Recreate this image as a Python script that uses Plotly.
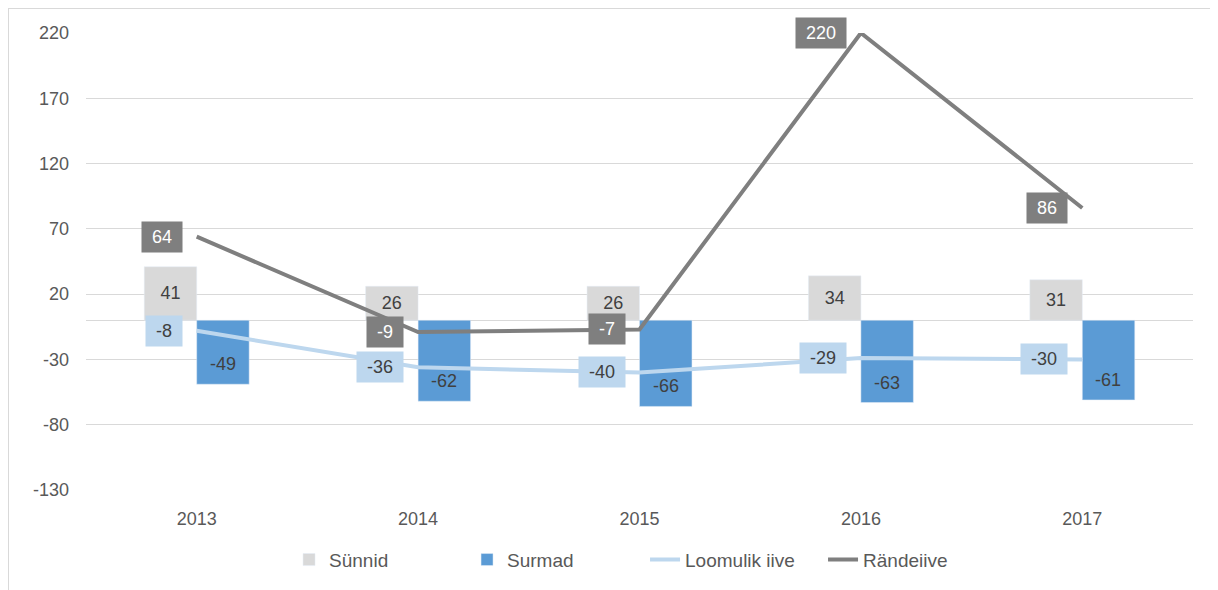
import plotly.graph_objects as go

years = ["2013", "2014", "2015", "2016", "2017"]
sunnid = [41, 26, 26, 34, 31]
surmad = [-49, -62, -66, -63, -61]
loomulik = [-8, -36, -40, -29, -30]
rande = [64, -9, -7, 220, 86]
y_ticks = [-130, -80, -30, 20, 70, 120, 170, 220]

C_SUN = "#d9d9d9"
C_SUR = "#5b9bd5"
C_LOO = "#bdd7ee"
C_RAN = "#7f7f7f"
TXT = "#404040"
FONT = "Liberation Sans, Arial, sans-serif"

# page body has an 8px margin, so the figure sits 8px in from the window edge
W, H = 1210, 582
ML, MT, MR, MB = 78, 25, 25, 99
PW, PH = W - ML - MR, H - MT - MB

fig = go.Figure()
fig.add_trace(go.Bar(name="Sünnid", x=years, y=sunnid, marker_color=C_SUN,
                     text=[str(v) for v in sunnid], textposition="inside",
                     insidetextanchor="middle",
                     textfont=dict(color=TXT, size=18, family=FONT)))
fig.add_trace(go.Bar(name="Surmad", x=years, y=surmad, marker_color=C_SUR))
fig.add_trace(go.Scatter(name="Loomulik iive", x=years, y=loomulik, mode="lines",
                         line=dict(color=C_LOO, width=4)))
fig.add_trace(go.Scatter(name="Rändeiive", x=years, y=rande, mode="lines",
                         line=dict(color=C_RAN, width=4)))


def text_w(s):
    return sum(6 if ch == "-" else 10 for ch in s)


annotations = []
# Surmad labels near the inside end of each bar
for i, v in enumerate(surmad):
    annotations.append(dict(
        x=i, y=v, xref="x", yref="y", text=str(v), showarrow=False,
        xanchor="center", yanchor="middle", xshift=26, yshift=20,
        font=dict(color=TXT, size=18, family=FONT)))
# boxed labels to the left of line points
for series, bg, fc in ((loomulik, C_LOO, TXT), (rande, C_RAN, "white")):
    for i, v in enumerate(series):
        s = str(v)
        annotations.append(dict(
            x=i, y=v, xref="x", yref="y", text=s, showarrow=False,
            xanchor="right", yanchor="middle", xshift=-14,
            width=text_w(s) + 20, height=30, borderpad=0,
            bgcolor=bg, font=dict(color=fc, size=18, family=FONT)))

fig.update_layout(
    width=W, height=H,
    margin=dict(l=ML, r=MR, t=MT, b=MB),
    paper_bgcolor="white", plot_bgcolor="white",
    barmode="group", bargap=0.526, bargroupgap=0,
    font=dict(family=FONT, size=18, color="#595959"),
    showlegend=True,
    legend=dict(orientation="h", x=0.505, xanchor="center", y=-0.15, yanchor="middle",
                font=dict(size=19, color="#595959"), traceorder="normal",
                entrywidth=133, entrywidthmode="pixels"),
    annotations=annotations,
    shapes=[dict(type="rect", xref="paper", yref="paper",
                 x0=(0 - ML) / PW, x1=(W + 20 - ML) / PW,
                 y0=-(MB + 20) / PH, y1=1 + MT / PH,
                 line=dict(color="#d9d9d9", width=2), layer="below")],
)
fig.update_xaxes(type="category", range=[-0.5, len(years) - 0.5],
                 showgrid=False, showline=False, ticks="",
                 ticklabelstandoff=16,
                 tickfont=dict(size=18, color="#595959"))
fig.update_yaxes(range=[-130, 220], tickvals=y_ticks,
                 ticktext=[str(v) for v in y_ticks], showgrid=True,
                 gridcolor="#d9d9d9", gridwidth=1, zeroline=True,
                 zerolinecolor="#d9d9d9", zerolinewidth=1, showline=False,
                 ticks="", ticklabelstandoff=16,
                 tickfont=dict(size=18, color="#595959"))

fig.write_html("out.html")
